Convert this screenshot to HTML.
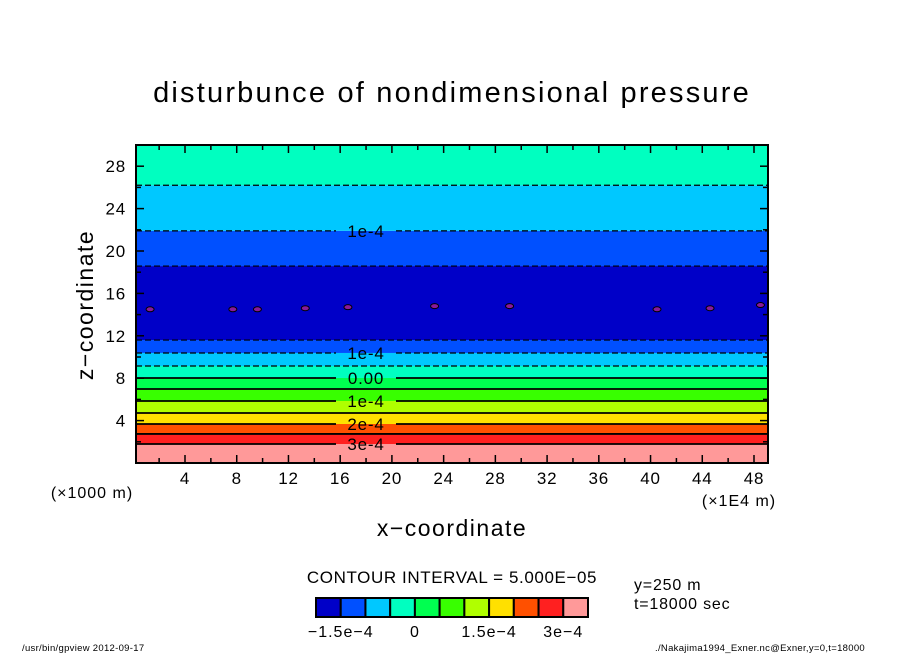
<!DOCTYPE html>
<html><head><meta charset="utf-8"><style>
body{margin:0;background:#fff;}
svg text{font-family:"Liberation Sans",sans-serif;fill:#000;}
</style></head><body>
<svg width="904" height="654" xmlns="http://www.w3.org/2000/svg">
<rect width="904" height="654" fill="#fff"/>
<text x="452" y="102" font-size="29" letter-spacing="2.2" text-anchor="middle">disturbunce of nondimensional pressure</text>
<g id="plot"></g>
<g id="axes"></g>
<text x="93" y="305" font-size="23" letter-spacing="1.5" text-anchor="middle" transform="rotate(-90 93 305)">z−coordinate</text>
<text x="452" y="536" font-size="23" letter-spacing="1.5" text-anchor="middle">x−coordinate</text>
<text x="92" y="498" font-size="16" letter-spacing="1" text-anchor="middle">(×1000 m)</text>
<text x="739" y="506" font-size="16" letter-spacing="1" text-anchor="middle">(×1E4 m)</text>
<text x="452" y="583" font-size="17" letter-spacing="0.6" text-anchor="middle">CONTOUR INTERVAL = 5.000E−05</text>
<g id="cbar"></g>
<text x="634" y="590" font-size="16" letter-spacing="0.8">y=250 m</text>
<text x="634" y="609" font-size="16" letter-spacing="0.8">t=18000 sec</text>
<text x="22" y="651" font-size="9.5" letter-spacing="0.3">/usr/bin/gpview  2012-09-17</text>
<text x="865" y="651" font-size="9.5" letter-spacing="0.3" text-anchor="end">./Nakajima1994_Exner.nc@Exner,y=0,t=18000</text>
</svg>
<script>
// contour values and their z positions (km) from bottom to top
const contourLevels = [3e-4, 2.5e-4, 2e-4, 1.5e-4, 1e-4, 0.5e-4, 0, -0.5e-4, -1e-4, -1.5e-4, -1.5e-4, -1e-4, -0.5e-4];
const contourZ = [1.79, 2.74, 3.68, 4.72, 5.85, 6.98, 8.02, 9.15, 10.38, 11.6, 18.58, 21.9, 26.2];
const contourLabels = ["3e-4", "", "2e-4", "", "1e-4", "", "0.00", "", "1e-4", "", "", "1e-4", ""];
// band classes from bottom to top, one per gap between contours
const bandClass = [10, 9, 8, 7, 6, 5, 4, 3, 2, 1, 0, 1, 2, 3];
const cbarColors = ["#0000c8","#0050ff","#00c8ff","#00ffc0","#00ff50","#38ff00","#b0ff00","#ffe000","#ff5000","#ff2020","#ff9999"];
const cbarTicks = ["−1.5e−4","0","1.5e−4","3e−4"];
const xTicks = [4,8,12,16,20,24,28,32,36,40,44,48];
const zTicks = [4,8,12,16,20,24,28];
// small -2e-4 blobs (x in 1E4 m, z in km)
const blobX = [1.3, 7.7, 9.6, 13.3, 16.6, 23.3, 29.1, 40.5, 44.6, 48.5];
const blobZ = [14.5, 14.5, 14.5, 14.6, 14.7, 14.8, 14.8, 14.5, 14.6, 14.9];

const L=136,R=768,T=145,B=463;
const xs=v=>185+(v-4)*(754-185)/44;
const zs=v=>B-v*(B-T)/30;
const NS="http://www.w3.org/2000/svg";
function mk(tag,attrs,parent){const e=document.createElementNS(NS,tag);for(const k in attrs)e.setAttribute(k,attrs[k]);parent.appendChild(e);return e;}
const plot=document.getElementById('plot');
const edges=[0,...contourZ,30];
for(let i=0;i<bandClass.length;i++){
  const y1=zs(edges[i+1]),y0=zs(edges[i]);
  const r=mk('rect',{x:L,y:y1,width:R-L,height:y0-y1,fill:cbarColors[bandClass[i]]},plot);
  
  
}
for(let i=0;i<blobX.length;i++){
  const e=mk('ellipse',{cx:xs(blobX[i]),cy:zs(blobZ[i]),rx:4,ry:2.5,fill:'#8a1a9a',stroke:'#000','stroke-width':1},plot);
  
  
}
for(let i=0;i<contourZ.length;i++){
  const y=zs(contourZ[i]);
  const neg=contourLevels[i]<0;
  const lbl=contourLabels[i];
  const gx0=336,gx1=396;
  const segs=lbl?[[L,gx0],[gx1,R]]:[[L,R]];
  segs.forEach(s=>{
    const l=mk('line',{x1:s[0],y1:y,x2:s[1],y2:y,stroke:'#000','stroke-width':neg?1.2:1.8,'stroke-dasharray':neg?'6,3':'none'},plot);
    
    
  });
  if(lbl){
    const t=mk('text',{x:(gx0+gx1)/2,y:y+6,'font-size':17,'letter-spacing':0.8,'text-anchor':'middle'},plot);
    t.textContent=lbl;
    
    
  }
}
const ax=document.getElementById('axes');
mk('rect',{x:L,y:T,width:R-L,height:B-T,fill:'none',stroke:'#000','stroke-width':2},ax);
for(let v=2;v<50;v+=2){
  const x=xs(v);if(x<=L||x>=R)continue;
  const len=(v%4==0)?8:5;
  mk('line',{x1:x,y1:B,x2:x,y2:B-len,stroke:'#000','stroke-width':1.5},ax);
  mk('line',{x1:x,y1:T,x2:x,y2:T+len,stroke:'#000','stroke-width':1.5},ax);
}
for(let v=2;v<30;v+=2){
  const y=zs(v);const len=(v%4==0)?8:5;
  mk('line',{x1:L,y1:y,x2:L+len,y2:y,stroke:'#000','stroke-width':1.5},ax);
  mk('line',{x1:R,y1:y,x2:R-len,y2:y,stroke:'#000','stroke-width':1.5},ax);
}
xTicks.forEach(v=>{const t=mk('text',{x:xs(v),y:484,'font-size':17,'letter-spacing':0.8,'text-anchor':'middle'},ax);t.textContent=v;
  
  });
zTicks.forEach(v=>{const t=mk('text',{x:126,y:zs(v)+6,'font-size':17,'letter-spacing':0.8,'text-anchor':'end'},ax);t.textContent=v;
  
  });
const cb=document.getElementById('cbar');
const cx0=316,cw=(588-316)/cbarColors.length;
cbarColors.forEach((c,i)=>{const r=mk('rect',{x:cx0+i*cw,y:598,width:cw,height:19,fill:c,stroke:'#000','stroke-width':2},cb);
  
  });
cbarTicks.forEach((s,i)=>{const t=mk('text',{x:cx0+cw*(1+i*3),y:637,'font-size':16,'letter-spacing':1,'text-anchor':'middle'},cb);t.textContent=s;
  
  });
</script>
</body></html>
